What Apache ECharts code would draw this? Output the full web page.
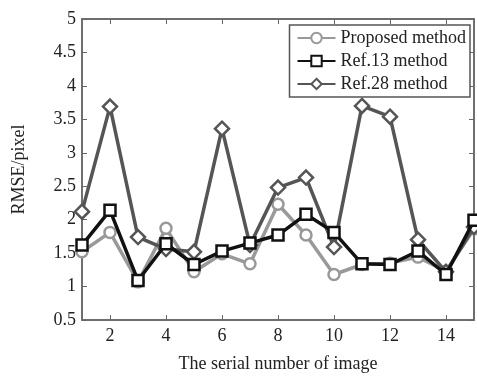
<!DOCTYPE html>
<html>
<head>
<meta charset="utf-8">
<script src="https://cdn.jsdelivr.net/npm/echarts@6/dist/echarts.min.js"></script>
<style>
html,body{margin:0;padding:0;background:#fff;}
#chart{width:477px;height:378px;}
</style>
</head>
<body>
<div id="chart"></div>
<script>
var imageNo = ['1','2','3','4','5','6','7','8','9','10','11','12','13','14','15'];
var proposed = [1.52,1.81,1.07,1.87,1.22,1.49,1.34,2.23,1.77,1.18,1.33,1.35,1.44,1.23,1.86];
var ref13 = [1.62,2.14,1.09,1.64,1.33,1.53,1.65,1.77,2.08,1.81,1.34,1.33,1.53,1.18,1.99];
var ref28 = [2.12,3.69,1.74,1.56,1.52,3.36,1.62,2.48,2.63,1.59,3.70,3.54,1.70,1.22,1.89];

var font = 'Liberation Serif';
var axisCol = '#666';
var evenOnly = function(i){ return i % 2 === 1; };

var chart = echarts.init(document.getElementById('chart'));
var option = {
	animation: false,
	textStyle: { fontFamily: font },
	grid: { left: 82, right: 3, top: 19, bottom: 54, show: true, borderColor: axisCol, borderWidth: 1.5 },
	legend: {
		right: 7, top: 25,
		orient: 'vertical',
		backgroundColor: '#fff',
		borderColor: '#555', borderWidth: 1.5,
		padding: [4, 4, 4, 7],
		itemGap: 5, itemWidth: 38, itemHeight: 13,
		textStyle: { fontFamily: font, fontSize: 18, color: '#222' },
		data: ['Proposed method', 'Ref.13 method', 'Ref.28 method']
	},
	xAxis: [{
		type: 'category', data: imageNo, boundaryGap: false,
		name: 'The serial number of image', nameLocation: 'middle', nameGap: 35,
		nameTextStyle: { fontFamily: font, fontSize: 18, color: '#222' },
		axisLine: { lineStyle: { color: axisCol, width: 1.5 } },
		axisTick: { inside: true, length: 5, interval: evenOnly, lineStyle: { color: axisCol } },
		axisLabel: { interval: evenOnly, fontFamily: font, fontSize: 18, color: '#222', margin: 7 },
		splitLine: { show: false }
	}, {
		type: 'category', data: imageNo, boundaryGap: false, position: 'top',
		axisLine: { lineStyle: { color: axisCol, width: 1.5 } },
		axisTick: { inside: true, length: 5, interval: evenOnly, lineStyle: { color: axisCol } },
		axisLabel: { show: false }
	}],
	yAxis: [{
		type: 'value', min: 0.5, max: 5, interval: 0.5,
		name: 'RMSE/pixel', nameLocation: 'middle', nameGap: 54,
		nameTextStyle: { fontFamily: font, fontSize: 18, color: '#222' },
		axisLine: { show: true, lineStyle: { color: axisCol, width: 1.5 } },
		axisTick: { show: true, inside: true, length: 5, lineStyle: { color: axisCol } },
		axisLabel: { fontFamily: font, fontSize: 18, color: '#222', margin: 6 },
		splitLine: { show: false }
	}, {
		type: 'value', min: 0.5, max: 5, interval: 0.5, position: 'right',
		axisLine: { show: true, lineStyle: { color: axisCol, width: 1.5 } },
		axisTick: { show: true, inside: true, length: 5, lineStyle: { color: axisCol } },
		axisLabel: { show: false },
		splitLine: { show: false }
	}],
	series: [{
		name: 'Proposed method', type: 'line', data: proposed,
		symbol: 'circle', symbolSize: 11,
		lineStyle: { color: '#999', width: 3.5 },
		itemStyle: { color: '#fff', borderColor: '#999', borderWidth: 2.5 },
		z: 2
	}, {
		name: 'Ref.13 method', type: 'line', data: ref13,
		symbol: 'rect', symbolSize: 11,
		lineStyle: { color: '#111', width: 3.5 },
		itemStyle: { color: '#fff', borderColor: '#111', borderWidth: 2.5 },
		z: 4
	}, {
		name: 'Ref.28 method', type: 'line', data: ref28,
		symbol: 'diamond', symbolSize: 14,
		lineStyle: { color: '#555', width: 3.5 },
		itemStyle: { color: '#fff', borderColor: '#555', borderWidth: 2.5 },
		z: 3
	}]
};
chart.setOption(option);
</script>
</body>
</html>
